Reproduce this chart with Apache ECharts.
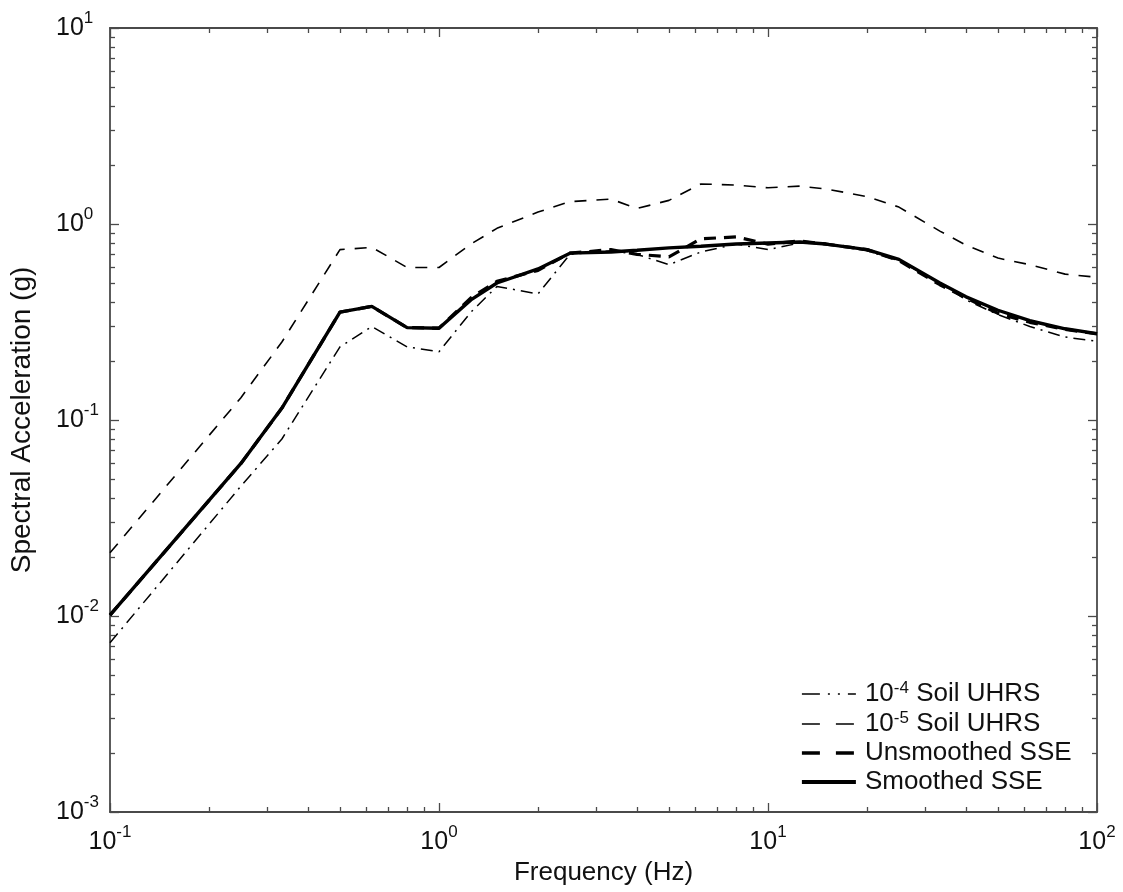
<!DOCTYPE html>
<html><head><meta charset="utf-8">
<script src="https://cdn.jsdelivr.net/npm/echarts@6/dist/echarts.min.js"></script>
<style>html,body{margin:0;padding:0;background:#fff}#c{width:1123px;height:892px}</style>
</head><body><div id="c"></div>
<script>
// ---- data ----
const frequencies   = [0.1, 0.25, 0.333, 0.5, 0.625, 0.8, 1, 1.25, 1.5, 2, 2.5, 3.33, 4, 5, 6.25, 8, 10, 12.5, 15, 20, 25, 33.3, 40, 50, 62.5, 80, 100];
const uhrs1e4       = [0.0073, 0.046, 0.080, 0.236, 0.30, 0.236, 0.223, 0.355, 0.48, 0.44, 0.70, 0.73, 0.70, 0.62, 0.72, 0.79, 0.74, 0.80, 0.79, 0.73, 0.65, 0.50, 0.41, 0.345, 0.30, 0.265, 0.252];
const uhrs1e5       = [0.021, 0.13, 0.25, 0.74, 0.76, 0.60, 0.60, 0.79, 0.95, 1.15, 1.30, 1.34, 1.20, 1.32, 1.60, 1.58, 1.53, 1.56, 1.51, 1.38, 1.22, 0.92, 0.78, 0.67, 0.62, 0.555, 0.535];
const unsmoothedSSE = [0.0101, 0.060, 0.115, 0.355, 0.38, 0.296, 0.294, 0.42, 0.51, 0.58, 0.71, 0.74, 0.70, 0.68, 0.84, 0.86, 0.79, 0.82, 0.79, 0.74, 0.65, 0.49, 0.42, 0.35, 0.315, 0.29, 0.275];
const smoothedSSE   = [0.0101, 0.060, 0.115, 0.355, 0.38, 0.296, 0.294, 0.41, 0.50, 0.59, 0.71, 0.72, 0.735, 0.755, 0.77, 0.79, 0.80, 0.81, 0.79, 0.74, 0.66, 0.50, 0.425, 0.363, 0.321, 0.292, 0.276];
const seriesNames   = ['10^-4 Soil UHRS', '10^-5 Soil UHRS', 'Unsmoothed SSE', 'Smoothed SSE'];
const xMajorTicks   = [0.1, 1, 10, 100];
const yMajorTicks   = [0.001, 0.01, 0.1, 1, 10];
const xTitle = 'Frequency (Hz)';
const yTitle = 'Spectral Acceleration (g)';

function minorTicks(majors) {
  const out = [];
  for (let i = 0; i < majors.length - 1; i++) for (let k = 2; k <= 9; k++) out.push(+(majors[i] * k).toPrecision(6));
  return out;
}
const xMinorTicks = minorTicks(xMajorTicks);
const yMinorTicks = minorTicks(yMajorTicks);

const FONT = 'Liberation Sans, Arial, Helvetica, sans-serif';
const TXT = '#111';
const AX = '#4a4a4a';

function powLabel(v) {
  const e = Math.round(Math.log10(v));
  return '{b|10}{s|' + e + '}';
}
const tickRich = {
  b: { fontSize: 25, fontFamily: FONT, color: TXT, lineHeight: 36 },
  s: { fontSize: 17, fontFamily: FONT, color: TXT, lineHeight: 16, verticalAlign: 'top' }
};

function axis(kind, pos, ticks, len, main, lineShow, min, max) {
  const a = {
    type: 'log', logBase: 10, min: min, max: max, position: pos,
    gridIndex: 0,
    axisLine: { show: lineShow, onZero: false, lineStyle: { color: AX, width: 1.8 } },
    axisTick: { show: true, inside: true, length: len, customValues: ticks, lineStyle: { color: AX, width: 1.3 } },
    axisLabel: { show: false },
    splitLine: { show: false },
    minorTick: { show: false },
    minorSplitLine: { show: false }
  };
  if (main) {
    a.axisLabel = {
      show: true, customValues: ticks, formatter: powLabel, rich: tickRich,
      margin: kind === 'x' ? 12 : 54, align: kind === 'x' ? 'center' : 'left'
    };
    a.name = kind === 'x' ? xTitle : yTitle;
    a.nameLocation = 'middle';
    a.nameGap = kind === 'x' ? 46 : 74;
    a.nameTextStyle = { fontSize: kind === 'x' ? 26 : 28, fontFamily: FONT, color: TXT };
  }
  return a;
}

const legendRich = {
  b: { fontSize: 26, fontFamily: FONT, color: TXT, lineHeight: 28 },
  s: { fontSize: 17, fontFamily: FONT, color: TXT, lineHeight: 12, verticalAlign: 'top' }
};
function legendFmt(name) {
  const m = name.match(/^10\^(-?\d+) (.*)$/);
  if (m) return '{b|10}{s|' + m[1] + '}{b| ' + m[2] + '}';
  return '{b|' + name + '}';
}

const legendLineStyles = [
  { color: '#000', width: 1.6, type: [18, 8, 2, 8, 2, 8] },
  { color: '#000', width: 1.6, type: [18, 16] },
  { color: '#000', width: 3.6, type: [18, 16] },
  { color: '#000', width: 3.8, type: 'solid' }
];

function mk(name, data, lineStyle, z) {
  return {
    name: name, type: 'line', xAxisIndex: 0, yAxisIndex: 0,
    data: frequencies.map((f, i) => [f, data[i]]),
    symbol: 'none', showSymbol: false, smooth: false,
    lineStyle: Object.assign({ color: '#000' }, lineStyle),
    itemStyle: { color: '#000' },
    z: z, silent: true, animation: false
  };
}

const chart = echarts.init(document.getElementById('c'), null, { renderer: 'canvas' });
chart.setOption({
  animation: false,
  backgroundColor: '#fff',
  grid: { left: 106, right: 26, top: 28, bottom: 80, containLabel: false },
  xAxis: [
    axis('x', 'bottom', xMajorTicks, 9, true, true, 0.1, 100),
    axis('x', 'bottom', xMinorTicks, 5, false, false, 0.1, 100),
    axis('x', 'top', xMajorTicks, 9, false, true, 0.1, 100),
    axis('x', 'top', xMinorTicks, 5, false, false, 0.1, 100)
  ],
  yAxis: [
    axis('y', 'left', yMajorTicks, 9, true, true, 0.001, 10),
    axis('y', 'left', yMinorTicks, 5, false, false, 0.001, 10),
    axis('y', 'right', yMajorTicks, 9, false, true, 0.001, 10),
    axis('y', 'right', yMinorTicks, 5, false, false, 0.001, 10)
  ],
  legend: {
    orient: 'vertical', left: 795, top: 675,
    itemWidth: 54, itemHeight: 14, itemGap: 3,
    data: seriesNames.map((n, i) => ({ name: n, lineStyle: legendLineStyles[i], itemStyle: { opacity: 0 } })),
    formatter: legendFmt,
    itemStyle: { opacity: 0 },
    textStyle: { rich: legendRich, padding: [0, 0, 0, 4] },
    selectedMode: false
  },
  series: [
    mk(seriesNames[0], uhrs1e4, { width: 1.5, type: [12, 6, 2, 6] }, 2),
    mk(seriesNames[1], uhrs1e5, { width: 1.6, type: [12, 10] }, 3),
    mk(seriesNames[2], unsmoothedSSE, { width: 3.2, type: [12, 8] }, 4),
    mk(seriesNames[3], smoothedSSE, { width: 3.4, type: 'solid' }, 5)
  ]
});
</script></body></html>
